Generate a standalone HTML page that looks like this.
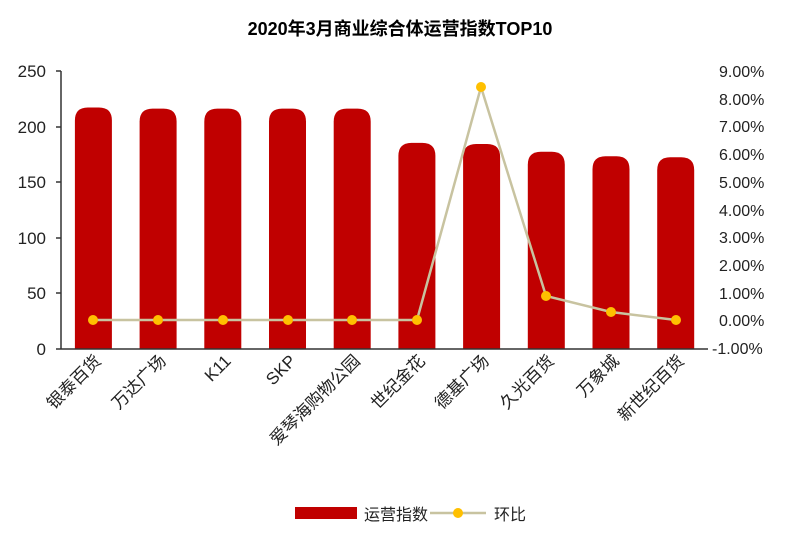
<!DOCTYPE html>
<html><head><meta charset="utf-8"><style>
body{margin:0;background:#fff;}
text{font-family:"Liberation Sans","Noto Sans CJK SC",sans-serif;}
</style></head><body>
<svg width="800" height="545" xmlns="http://www.w3.org/2000/svg">
<text x="400" y="35" text-anchor="middle" font-size="18" font-weight="bold" fill="#000">2020年3月商业综合体运营指数TOP10</text>
<g font-size="17" fill="#222" text-anchor="end">
<text x="46" y="77">250</text><text x="46" y="133">200</text><text x="46" y="188">150</text>
<text x="46" y="244">100</text><text x="46" y="299">50</text><text x="46" y="355">0</text>
</g>
<g font-size="16" fill="#222">
<text x="719" y="77">9.00%</text><text x="719" y="105">8.00%</text><text x="719" y="132">7.00%</text>
<text x="719" y="160">6.00%</text><text x="719" y="188">5.00%</text><text x="719" y="216">4.00%</text>
<text x="719" y="243">3.00%</text><text x="719" y="271">2.00%</text><text x="719" y="299">1.00%</text>
<text x="719" y="326">0.00%</text><text x="712" y="354">-1.00%</text>
</g>
<g fill="#c00000">
<path d="M74.9 349 V120.5 Q74.9 107.5 87.9 107.5 H98.9 Q111.9 107.5 111.9 120.5 V349 Z"/>
<path d="M139.6 349 V121.6 Q139.6 108.6 152.6 108.6 H163.6 Q176.6 108.6 176.6 121.6 V349 Z"/>
<path d="M204.3 349 V121.6 Q204.3 108.6 217.3 108.6 H228.3 Q241.3 108.6 241.3 121.6 V349 Z"/>
<path d="M269 349 V121.6 Q269 108.6 282 108.6 H293 Q306 108.6 306 121.6 V349 Z"/>
<path d="M333.7 349 V121.6 Q333.7 108.6 346.7 108.6 H357.7 Q370.7 108.6 370.7 121.6 V349 Z"/>
<path d="M398.4 349 V155.9 Q398.4 142.9 411.4 142.9 H422.4 Q435.4 142.9 435.4 155.9 V349 Z"/>
<path d="M463.1 349 V157 Q463.1 144 476.1 144 H487.1 Q500.1 144 500.1 157 V349 Z"/>
<path d="M527.8 349 V164.8 Q527.8 151.8 540.8 151.8 H551.8 Q564.8 151.8 564.8 164.8 V349 Z"/>
<path d="M592.5 349 V169.2 Q592.5 156.2 605.5 156.2 H616.5 Q629.5 156.2 629.5 169.2 V349 Z"/>
<path d="M657.2 349 V170.3 Q657.2 157.3 670.2 157.3 H681.2 Q694.2 157.3 694.2 170.3 V349 Z"/>
</g>
<g stroke="#333" stroke-width="1.5">
<line x1="61" y1="71" x2="61" y2="349"/>
<line x1="61" y1="349" x2="708" y2="349"/>
<line x1="56" y1="71" x2="61" y2="71"/><line x1="56" y1="127" x2="61" y2="127"/>
<line x1="56" y1="182" x2="61" y2="182"/><line x1="56" y1="238" x2="61" y2="238"/>
<line x1="56" y1="293" x2="61" y2="293"/><line x1="56" y1="349" x2="61" y2="349"/>
</g>
<polyline fill="none" stroke="#c8c3a0" stroke-width="2.5" points="93,320 158,320 223,320 288,320 352,320 417,320 481,87 546,296 611,312 676,320"/>
<g fill="#ffc000">
<circle cx="93" cy="320" r="5"/><circle cx="158" cy="320" r="5"/><circle cx="223" cy="320" r="5"/>
<circle cx="288" cy="320" r="5"/><circle cx="352" cy="320" r="5"/><circle cx="417" cy="320" r="5"/>
<circle cx="481" cy="87" r="5"/><circle cx="546" cy="296" r="5"/><circle cx="611" cy="312" r="5"/>
<circle cx="676" cy="320" r="5"/>
</g>
<g font-size="17" fill="#222" text-anchor="end">
<text transform="translate(102,362) rotate(-45)">银泰百货</text>
<text transform="translate(167,362) rotate(-45)">万达广场</text>
<text transform="translate(232,362) rotate(-45)">K11</text>
<text transform="translate(297,362) rotate(-45)">SKP</text>
<text transform="translate(361,362) rotate(-45)">爱琴海购物公园</text>
<text transform="translate(426,362) rotate(-45)">世纪金花</text>
<text transform="translate(490,362) rotate(-45)">德基广场</text>
<text transform="translate(555,362) rotate(-45)">久光百货</text>
<text transform="translate(620,362) rotate(-45)">万象城</text>
<text transform="translate(685,362) rotate(-45)">新世纪百货</text>
</g>
<rect x="295" y="507" width="62" height="12" fill="#c00000"/>
<text x="364" y="520" font-size="16" fill="#222">运营指数</text>
<line x1="430" y1="513" x2="486" y2="513" stroke="#c8c3a0" stroke-width="2.5"/>
<circle cx="458" cy="513" r="5" fill="#ffc000"/>
<text x="494" y="520" font-size="16" fill="#222">环比</text>
</svg>
</body></html>
